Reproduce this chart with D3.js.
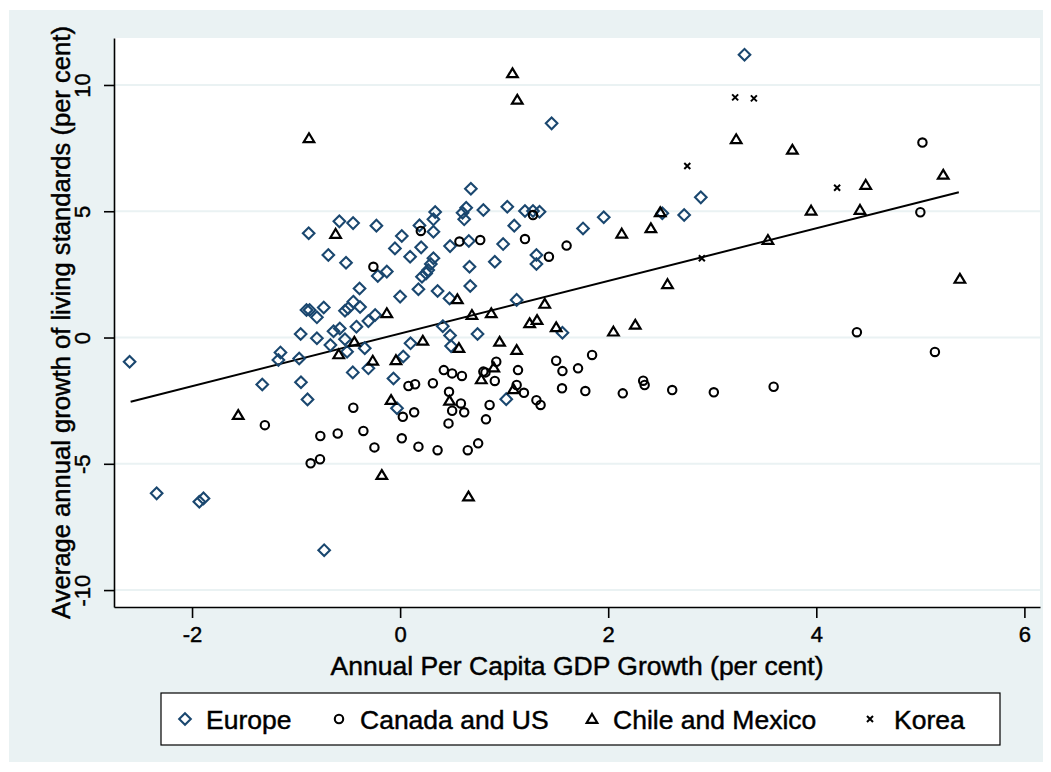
<!DOCTYPE html>
<html>
<head>
<meta charset="utf-8">
<script src="https://cdn.jsdelivr.net/npm/d3@7"></script>
<style>
  body { margin: 0; background: #fff; }
  text { font-family: "Liberation Sans", Arial, sans-serif; fill: #000; stroke: #000; stroke-width: 0.45px; }
</style>
</head>
<body>
<div id="chart"></div>
<script>
// values: [gdp growth, living standards growth]
const europe = [
  [-2.60,-0.96],[-2.34,-6.17],[-1.93,-6.50],[-1.89,-6.37],[-1.325,-1.86],[-1.17,-0.89],[-1.15,-0.59],
  [-0.97,-0.83],[-0.953,-1.77],[-0.89,-2.45],[-0.73,-8.42],[-0.956,0.14],[-0.90,1.09],[-0.87,1.09],
  [-0.879,4.13],[-0.80,-0.03],[-0.80,0.80],[-0.734,1.19],[-0.69,3.27],[-0.67,-0.30],[-0.64,0.25],
  [-0.58,0.36],[-0.584,4.60],[-0.53,1.06],[-0.50,1.16],[-0.53,-0.07],[-0.52,2.96],[-0.51,-0.56],
  [-0.455,-1.38],[-0.452,4.53],[-0.45,1.42],[-0.42,0.43],[-0.39,1.94],[-0.385,1.21],[-0.34,-0.42],
  [-0.305,0.65],[-0.305,-1.22],[-0.24,0.89],[-0.228,4.43],[-0.215,2.44],[-0.128,2.61],[-0.064,-1.62],
  [-0.05,3.53],[0.0,1.62],[0.016,4.02],[0.03,-0.75],[-0.03,-2.80],[0.10,-0.23],[0.096,3.20],
  [0.176,1.91],[0.186,4.44],[0.202,3.57],[0.21,2.41],[0.25,2.54],[0.27,2.67],[0.295,2.91],
  [0.32,3.14],[0.32,4.19],[0.32,4.68],[0.337,4.97],[0.36,1.84],[0.41,0.45],[0.475,1.55],
  [0.48,3.62],[0.48,0.08],[0.49,-0.34],[0.60,4.94],[0.616,4.68],[0.635,5.14],[0.66,3.82],
  [0.667,2.80],[0.674,2.04],[0.68,5.89],[0.744,0.14],[0.80,5.05],[0.91,3.00],[0.99,3.70],
  [1.02,-2.44],[1.03,5.18],[1.097,4.43],[1.12,1.49],[1.20,5.01],[1.277,5.01],[1.31,3.27],
  [1.31,2.91],[1.34,4.98],[1.456,8.48],[1.56,0.19],[1.758,4.32],[1.957,4.76],[2.52,4.92],
  [2.73,4.85],[2.89,5.55],[3.31,11.2]
];
const canadaUS = [
  [-1.30,-3.47],[-0.86,-4.98],[-0.77,-4.82],[-0.767,-3.90],[-0.60,-3.80],[-0.45,-2.78],[-0.353,-3.70],
  [-0.257,2.80],[-0.247,-4.35],[0.016,-3.99],[0.026,-3.14],[0.08,-1.92],[0.135,-2.96],[0.144,-1.85],
  [0.176,-4.32],[0.199,4.22],[0.315,-1.81],[0.36,-4.46],[0.42,-1.29],[0.47,-2.15],[0.465,-3.40],
  [0.50,-1.42],[0.50,-2.90],[0.57,3.80],[0.584,-2.61],[0.594,-1.52],[0.616,-2.96],[0.65,-4.46],
  [0.75,-4.19],[0.77,3.86],[0.80,-1.35],[0.82,-1.38],[0.825,-3.24],[0.86,-2.67],[0.91,-1.72],
  [0.924,-0.96],[1.12,-1.88],[1.133,-1.29],[1.19,-2.19],[1.20,3.90],[1.277,4.85],[1.31,-2.48],
  [1.35,-2.67],[1.43,3.20],[1.50,-0.92],[1.556,-2.01],[1.56,-1.33],[1.60,3.64],[1.71,-1.22],
  [1.78,-2.12],[1.845,-0.69],[2.14,-2.21],[2.336,-1.71],[2.35,-1.88],[2.615,-2.08],[3.015,-2.17],
  [3.59,-1.95],[4.39,0.21],[5.00,4.96],[5.02,7.72],[5.14,-0.57]
];
const chileMexico = [
  [-1.556,-3.07],[-0.876,7.89],[-0.62,4.10],[-0.59,-0.67],[-0.44,-0.17],[-0.263,-0.92],[-0.176,-5.45],
  [-0.128,0.96],[-0.087,-2.48],[-0.04,-0.90],[0.218,-0.13],[0.475,-2.51],[0.55,1.51],[0.565,-0.42],
  [0.657,-6.30],[0.69,0.89],[0.78,-1.66],[0.876,0.96],[0.90,-1.19],[0.956,-0.17],[1.08,10.46],
  [1.09,-2.05],[1.12,-0.50],[1.126,9.41],[1.245,0.56],[1.316,0.69],[1.39,1.33],[1.50,0.40],
  [2.05,0.23],[2.13,4.11],[2.26,0.50],[2.41,4.32],[2.50,4.96],[2.57,2.11],[3.23,7.85],
  [3.535,3.86],[3.77,7.43],[3.95,5.02],[4.42,5.05],[4.475,6.04],[5.22,6.44],[5.38,2.32]
];
const korea = [[2.76,6.79],[2.90,3.14],[3.22,9.51],[3.40,9.47],[4.20,5.93]];

// fitted line, end points
const fitX = [-2.59, 5.37];
const fitY = [-2.54, 5.75];

const xTicks = [-2, 0, 2, 4, 6];
const yTicks = [-10, -5, 0, 5, 10];
const seriesNames = ['Europe', 'Canada and US', 'Chile and Mexico', 'Korea'];

const W = 1051, H = 772;
const plot = {left: 114, right: 1040, top: 38, bottom: 607};
const navy = '#1a476f';
const panel = '#eaf2f3';

const svg = d3.select('#chart').append('svg').attr('width', W).attr('height', H);

svg.append('rect').attr('x', 9).attr('y', 10).attr('width', 1034).attr('height', 752).attr('fill', panel);
svg.append('rect').attr('x', plot.left).attr('y', plot.top)
  .attr('width', plot.right-plot.left).attr('height', plot.bottom-plot.top).attr('fill', '#fff');

const x = d3.scaleLinear().domain([-2.75, 6.15]).range([plot.left, plot.right]);
const y = d3.scaleLinear().domain([-10.67, 11.86]).range([plot.bottom, plot.top]);

// gridlines
svg.selectAll('line.grid').data(yTicks).enter().append('line').attr('class', 'grid')
  .attr('x1', plot.left).attr('x2', plot.right).attr('y1', d=>y(d)).attr('y2', d=>y(d))
  .style('stroke', panel).style('stroke-width', 2);

// axes
const fmt = d=>String(d);
const xAxis = svg.append('g').attr('transform', 'translate(0,'+plot.bottom+')')
  .call(d3.axisBottom(x).tickValues(xTicks).tickSizeInner(11).tickSizeOuter(0).tickPadding(4).tickFormat(fmt));
const yAxis = svg.append('g').attr('transform', 'translate('+plot.left+',0)')
  .call(d3.axisLeft(y).tickValues(yTicks).tickSizeInner(10).tickSizeOuter(0).tickFormat(fmt));
[xAxis, yAxis].forEach(a=>{
  a.select('.domain').style('stroke', '#000').style('stroke-width', 1.6);
  a.selectAll('.tick line').style('stroke', '#000').style('stroke-width', 1.6);
  a.selectAll('.tick text').style('font-size', '22px').style('fill', '#000');
});
xAxis.selectAll('.tick text').attr('dy', '0.92em');
yAxis.selectAll('.tick text')
  .attr('x', null).attr('dy', null)
  .attr('transform', 'translate(-24,0) rotate(-90)')
  .attr('text-anchor', 'middle').attr('y', 0);

// axis titles
svg.append('text').attr('x', (plot.left+plot.right)/2).attr('y', 675)
  .attr('text-anchor', 'middle').style('font-size', '26.5px')
  .text('Annual Per Capita GDP Growth (per cent)');
svg.append('text')
  .attr('transform', 'translate(70,'+((plot.top+plot.bottom)/2)+') rotate(-90)')
  .attr('text-anchor', 'middle').style('font-size', '25.6px')
  .text('Average annual growth of living standards (per cent)');

// fit line
svg.append('line')
  .attr('x1', x(fitX[0])).attr('y1', y(fitY[0])).attr('x2', x(fitX[1])).attr('y2', y(fitY[1]))
  .style('stroke', '#000').style('stroke-width', 2);

// marker shapes
const shapes = {
  diamond: 'M0,-5.8L5.8,0L0,5.8L-5.8,0Z',
  circle: 'M4.2,0A4.2,4.2 0 1,1 -4.2,0A4.2,4.2 0 1,1 4.2,0Z',
  triangle: 'M0,-5L5.3,3.8L-5.3,3.8Z',
  cross: 'M-3,-3L3,3M-3,3L3,-3'
};
const series = [
  {data: europe, shape: 'diamond', color: navy, width: 2.1},
  {data: canadaUS, shape: 'circle', color: '#000', width: 2.1},
  {data: chileMexico, shape: 'triangle', color: '#000', width: 2.2},
  {data: korea, shape: 'cross', color: '#000', width: 2}
];
series.forEach(s=>{
  svg.append('g').selectAll('path').data(s.data).enter().append('path')
    .attr('d', shapes[s.shape])
    .attr('transform', d=>'translate('+x(d[0])+','+y(d[1])+')')
    .style('fill', 'none').style('stroke', s.color).style('stroke-width', s.width);
});

// legend
const legend = svg.append('g');
legend.append('rect').attr('x', 161).attr('y', 693).attr('width', 839).attr('height', 52)
  .attr('fill', '#fff').style('stroke', '#000').style('stroke-width', 1.2);
const legendX = [185, 339, 592, 870];
const legendGap = [21, 21, 21, 24];
series.forEach((s, i)=>{
  legend.append('path').attr('d', shapes[s.shape])
    .attr('transform', 'translate('+legendX[i]+',719)')
    .style('fill', 'none').style('stroke', s.color).style('stroke-width', s.width);
  legend.append('text').attr('x', legendX[i]+legendGap[i]).attr('y', 729)
    .style('font-size', '26.5px').text(seriesNames[i]);
});
</script>
</body>
</html>
